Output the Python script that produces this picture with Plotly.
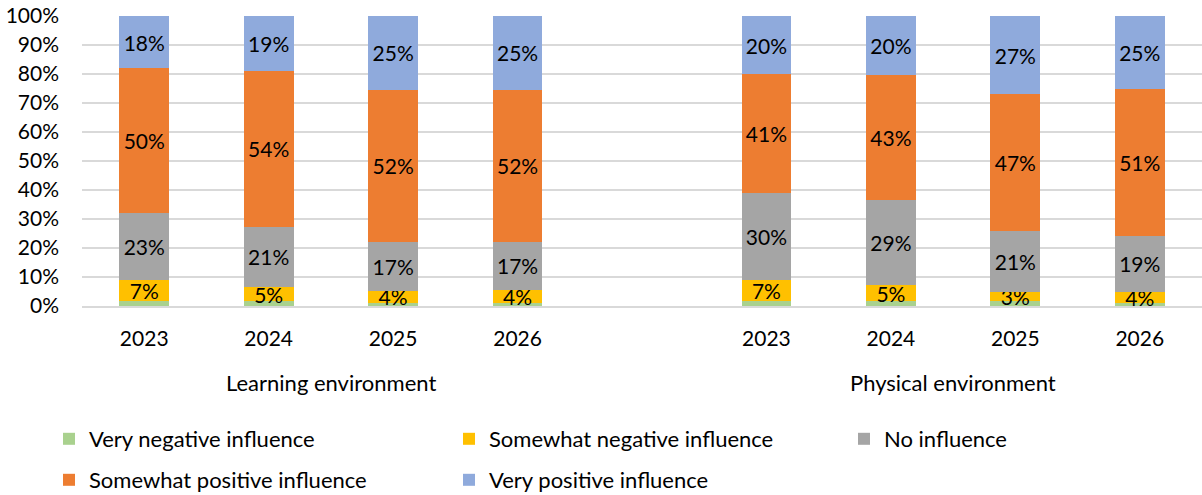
import plotly.graph_objects as go

years = ["2023", "2024", "2025", "2026"]
groups = ["Learning environment", "Physical environment"]
series_names = ["Very negative influence", "Somewhat negative influence", "No influence",
                "Somewhat positive influence", "Very positive influence"]
colors = ["#A9D18E", "#FFC000", "#A5A5A5", "#ED7D31", "#8FAADC"]

# values in percent, Learning 2023..2026 then Physical 2023..2026
very_negative     = [1.8, 1.6, 1.2, 1.2, 1.7, 1.7, 1.7, 1.2]
somewhat_negative = [7.2, 5.0, 4.1, 4.2, 7.1, 5.4, 3.3, 3.8]
no_influence      = [23.2, 20.8, 16.9, 16.8, 30.2, 29.3, 21.0, 19.0]
somewhat_positive = [49.8, 53.6, 52.4, 52.4, 41.0, 43.3, 47.0, 51.0]
very_positive     = [18.0, 19.0, 25.4, 25.4, 20.0, 20.3, 27.0, 25.0]

series = [very_negative, somewhat_negative, no_influence, somewhat_positive, very_positive]
show_labels = [False, True, True, True, True]

# slot positions: 4 years, empty slot, 4 years
xpos = [0, 1, 2, 3, 5, 6, 7, 8]
ticktext = years + years

FONT = "Lato"
NUM_SIZE = 21
WORD_SIZE = 22
W, H = 1202, 495

# legend entry anchor points (pixels from top-left): columns/rows as in the reference
legend_px = [(49, 439), (449, 439), (844, 439), (49, 480), (449, 480)]
legend_ids = ["legend", "legend2", "legend3", "legend4", "legend5"]

fig = go.Figure()
for i, (name, vals) in enumerate(zip(series_names, series)):
    fig.add_trace(go.Bar(
        x=xpos, y=vals, name=name,
        marker=dict(color=colors[i], line=dict(width=0)),
        width=0.4,
        text=[f"{round(v)}%" for v in vals] if show_labels[i] else None,
        textposition="inside" if show_labels[i] else "none",
        insidetextanchor="middle",
        textangle=0,
        constraintext="none",
        textfont=dict(color="#000000", size=NUM_SIZE, family=FONT),
        cliponaxis=False,
        legend=legend_ids[i],
        hoverinfo="skip",
    ))

annotations = []
group_centers = [1.5, 6.5]
for g, cx in zip(groups, group_centers):
    annotations.append(dict(
        x=cx, xref="x", y=-0.2655, yref="paper", text=g, showarrow=False,
        font=dict(size=WORD_SIZE, family=FONT, color="#000000"), xanchor="center", yanchor="middle"))

legends = {}
for lid, (px, py) in zip(legend_ids, legend_px):
    legends[lid] = dict(
        orientation="h", xref="container", yref="container",
        x=px / W, y=1 - py / H, yanchor="middle", xanchor="left",
        font=dict(size=WORD_SIZE, family=FONT, color="#000000"),
        bgcolor="rgba(0,0,0,0)",
    )

fig.update_layout(
    width=W, height=H,
    barmode="stack",
    plot_bgcolor="white", paper_bgcolor="white",
    margin=dict(l=82, r=0, t=16, b=189, autoexpand=False),
    font=dict(family=FONT, size=NUM_SIZE, color="#000000"),
    uniformtext=dict(minsize=NUM_SIZE, mode="show"),
    xaxis=dict(
        range=[-0.5, 8.5], tickvals=xpos, ticktext=ticktext, automargin=False,
        showgrid=False, zeroline=False, showline=True, linecolor="#D9D9D9", linewidth=1.5,
        ticks="", ticklabelstandoff=13, tickfont=dict(size=NUM_SIZE, family=FONT, color="#000000"),
    ),
    yaxis=dict(
        range=[0, 100], tickvals=list(range(0, 101, 10)), automargin=False,
        ticktext=[f"{v}%" for v in range(0, 101, 10)],
        showgrid=True, gridcolor="#D9D9D9", gridwidth=1.5, zeroline=False,
        showline=False, ticks="", ticklabelstandoff=22,
        tickfont=dict(size=NUM_SIZE, family=FONT, color="#000000"),
    ),
    annotations=annotations,
    showlegend=True,
    hovermode=False,
    **legends,
)

fig.write_html("out.html", config={"displayModeBar": False},
               post_script="document.body.style.margin='0';")
